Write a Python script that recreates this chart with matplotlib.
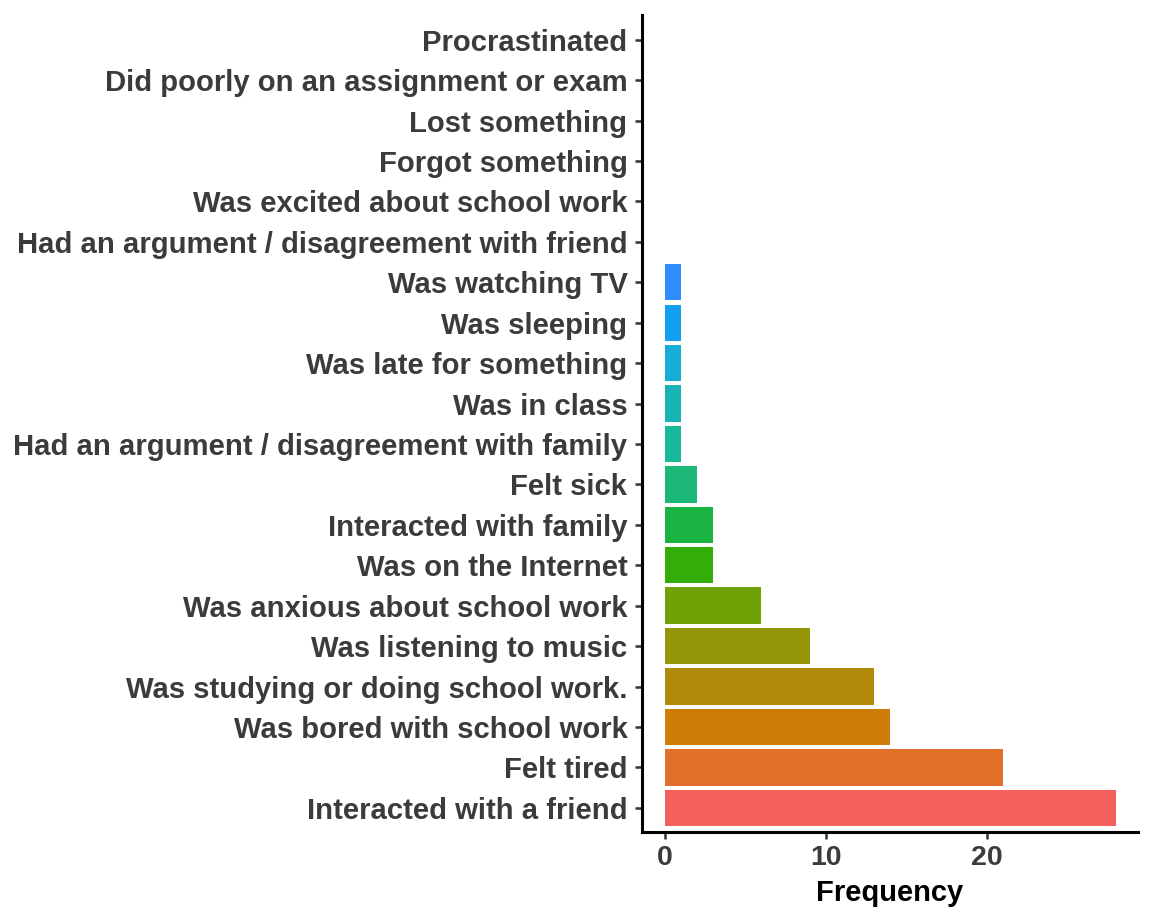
import matplotlib.pyplot as plt

categories = [
    "Interacted with a friend",
    "Felt tired",
    "Was bored with school work",
    "Was studying or doing school work.",
    "Was listening to music",
    "Was anxious about school work",
    "Was on the Internet",
    "Interacted with family",
    "Felt sick",
    "Had an argument / disagreement with family",
    "Was in class",
    "Was late for something",
    "Was sleeping",
    "Was watching TV",
    "Had an argument / disagreement with friend",
    "Was excited about school work",
    "Forgot something",
    "Lost something",
    "Did poorly on an assignment or exam",
    "Procrastinated",
]
frequency = [28, 21, 14, 13, 9, 6, 3, 3, 2, 1, 1, 1, 1, 1, 0, 0, 0, 0, 0, 0]

colors = ["#F4605C", "#E26F29", "#CD7D08", "#B08A08", "#939608", "#70A207",
          "#33AE06", "#1AB443", "#1BB877", "#1AB89A", "#17B3B5", "#16ADD6",
          "#139FEF", "#2E8CFF", "#8F7BFF", "#C26BFF", "#E45FEE", "#F55CD3",
          "#F95FB0", "#F76689"]

plt.rcParams['font.family'] = ['Liberation Sans', 'DejaVu Sans']

fig = plt.figure(figsize=(11.52, 9.21), dpi=100)
ax = fig.add_axes([0.5573, 0.0966, 0.4306, 0.8866])

y = list(range(len(categories)))
ax.barh(y, frequency, height=0.9, color=colors, edgecolor="none")

ax.set_xlim(-1.4, 29.4)
ax.set_ylim(-0.6, 19.6)
ax.set_yticks(y)
ax.set_yticklabels(categories, fontsize=21.1, fontweight="bold", color="#3b3b3b")
ax.set_xticks([0, 10, 20])
ax.set_xticklabels(["0", "10", "20"], fontsize=20.5, fontweight="bold", color="#3b3b3b")
ax.set_xlabel("Frequency", fontsize=21, fontweight="bold", color="black", labelpad=6)

for side in ["top", "right"]:
    ax.spines[side].set_visible(False)
for side in ["left", "bottom"]:
    ax.spines[side].set_linewidth(2.2)
    ax.spines[side].set_color("black")
ax.tick_params(axis="y", length=5, width=1.8, color="#333333", pad=5.5)
ax.tick_params(axis="x", length=5, width=1.8, color="#333333", pad=4)

fig.savefig("out.png", dpi=100)
